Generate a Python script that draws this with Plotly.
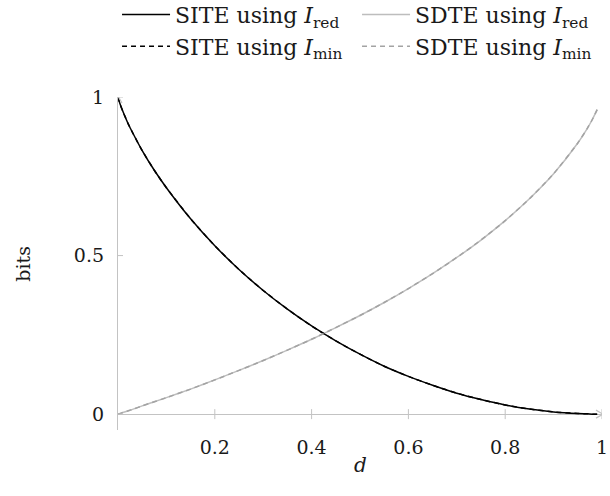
import plotly.graph_objects as go

# ---- data ----
d = [0, 0.001, 0.005, 0.01, 0.02, 0.03, 0.05, 0.075, 0.1, 0.15, 0.2, 0.25, 0.3, 0.35,
     0.4, 0.45, 0.5, 0.55, 0.6, 0.65, 0.7, 0.75, 0.8, 0.85, 0.9, 0.95, 0.97, 0.98, 0.99]
site_red = [1.0, 0.994, 0.975, 0.955, 0.919, 0.888, 0.831, 0.769, 0.714, 0.616, 0.531, 0.456,
            0.390, 0.331, 0.278, 0.231, 0.189, 0.151, 0.119, 0.091, 0.066, 0.046, 0.029,
            0.016, 0.007, 0.002, 0.001, 0.0, 0.0]
sdte_red = [0.0, 0.0005, 0.0025, 0.005, 0.010, 0.015, 0.026, 0.039, 0.052, 0.079, 0.108, 0.138,
            0.169, 0.202, 0.236, 0.273, 0.311, 0.352, 0.396, 0.443, 0.494, 0.549, 0.610,
            0.679, 0.758, 0.855, 0.902, 0.929, 0.960]
site_min = list(site_red)
sdte_min = list(sdte_red)

x_ticks = [0.2, 0.4, 0.6, 0.8, 1]
x_tick_text = ["0.2", "0.4", "0.6", "0.8", "1"]
y_ticks = [0, 0.5, 1]
y_tick_text = ["0", "0.5", "1"]

series = [
    ("SITE using <i>I</i><sub>red</sub>", site_red, "#000000", "solid"),
    ("SDTE using <i>I</i><sub>red</sub>", sdte_red, "#bdbdbd", "solid"),
    ("SITE using <i>I</i><sub>min</sub>", site_min, "#000000", "5px,4px"),
    ("SDTE using <i>I</i><sub>min</sub>", sdte_min, "#a3a3a3", "5px,4px"),
]

FONT = "DejaVu Serif"
TXT = "#1a1a1a"
AX = "#c3c3c3"

fig = go.Figure()
for name, vals, color, dash in series:
    fig.add_trace(go.Scatter(
        x=d, y=vals, mode="lines", name=name,
        line=dict(color=color, width=1.5, dash=dash, shape="spline", smoothing=0.6),
    ))

shapes = []
for tv in x_ticks:
    shapes.append(dict(type="line", xref="x", yref="y", x0=tv, x1=tv,
                       ysizemode="pixel", yanchor=0, y0=-5, y1=5,
                       line=dict(color=AX, width=1)))
for tv in y_ticks:
    shapes.append(dict(type="line", xref="x", yref="y", y0=tv, y1=tv,
                       xsizemode="pixel", xanchor=0, x0=-5, x1=5,
                       line=dict(color=AX, width=1)))
# axis arrow heads (decoration at the axis ends)
shapes.append(dict(type="path", xref="x", yref="y", xsizemode="pixel", ysizemode="pixel",
                   xanchor=1, yanchor=0, path="M-6,-4 L1,0 L-6,4",
                   line=dict(color=AX, width=1.2)))
shapes.append(dict(type="path", xref="x", yref="y", xsizemode="pixel", ysizemode="pixel",
                   xanchor=0, yanchor=1, path="M-4,-6 L0,1 L4,-6",
                   line=dict(color=AX, width=1.2)))

annotations = [
    dict(x=0.5, y=-0.105, xref="paper", yref="paper", text="<i>d</i>",
         showarrow=False, font=dict(family=FONT, size=20, color=TXT),
         xanchor="center", yanchor="middle"),
    dict(x=-0.198, y=0.5, xref="paper", yref="paper", text="bits", textangle=-90,
         showarrow=False, font=dict(family=FONT, size=19, color=TXT),
         xanchor="center", yanchor="middle"),
]

fig.update_layout(
    width=610, height=496,
    margin=dict(l=118, r=8, t=97, b=66, autoexpand=False),
    paper_bgcolor="white", plot_bgcolor="white",
    font=dict(family=FONT, size=19, color=TXT),
    showlegend=True,
    legend=dict(orientation="h", x=-0.002, y=1.31, xanchor="left", yanchor="top",
                entrywidth=177, entrywidthmode="pixels", bgcolor="rgba(0,0,0,0)",
                font=dict(family=FONT, size=22, color=TXT), itemwidth=48,
                tracegroupgap=0),
    xaxis=dict(range=[0, 1], showgrid=False, zeroline=False, showline=False, ticks="",
               tickmode="array", tickvals=x_ticks, ticktext=x_tick_text, automargin=False,
               tickfont=dict(family=FONT, size=19, color=TXT), ticklabelstandoff=4),
    yaxis=dict(range=[-0.05, 1], showgrid=False, zeroline=True, zerolinecolor=AX,
               zerolinewidth=1.3, showline=True, linecolor=AX, linewidth=1.3, ticks="",
               tickmode="array", tickvals=y_ticks, ticktext=y_tick_text, automargin=False,
               tickfont=dict(family=FONT, size=19, color=TXT), ticklabelstandoff=9),
    shapes=shapes,
    annotations=annotations,
)

fig.write_html("out.html", config={"displayModeBar": False},
               post_script="document.body.style.margin='0';")
